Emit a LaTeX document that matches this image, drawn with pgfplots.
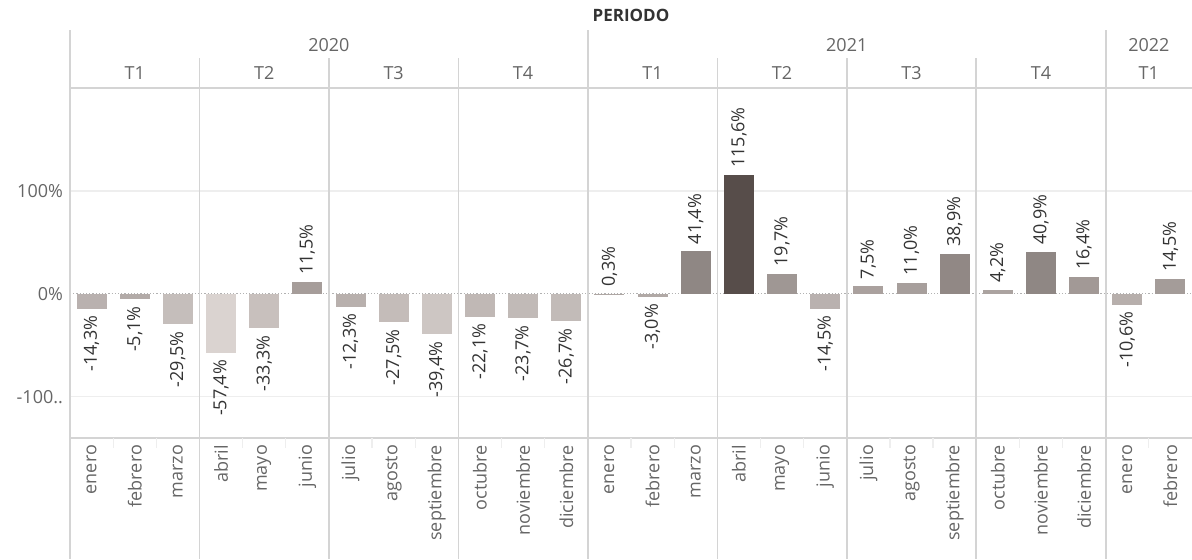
\documentclass[border=0pt]{standalone}
\usepackage{pgfplots}
\pgfplotsset{compat=1.18}
\usepackage{fontspec}
\setmainfont{Open Sans}
\definecolor{lt}{RGB}{218,211,208}
\definecolor{dk}{RGB}{87,77,74}
\definecolor{sepc}{RGB}{212,212,212}
\definecolor{gridc}{RGB}{238,238,238}
\definecolor{txt}{RGB}{102,102,102}
\definecolor{lbl}{RGB}{51,51,51}
\newcommand\pbar[3]{\addplot[draw=none, fill=dk!#3!lt, nodes near coords style={anchor=west}] coordinates {(#1,#2)};}
\newcommand\nbar[3]{\addplot[draw=none, fill=dk!#3!lt, nodes near coords style={anchor=east}] coordinates {(#1,#2)};}
\newcommand\hdr[3]{\node[font=\fontsize{9}{10}\selectfont, text=txt] at (axis cs:#1,#2) {#3};}
\begin{document}
\begin{tikzpicture}
\useasboundingbox (0,0) rectangle (596pt,279.5pt);
\begin{axis}[
  at={(35pt,60.5pt)}, anchor=south west, scale only axis,
  width=561pt, height=175pt,
  xmin=-0.5, xmax=25.5, ymin=-140, ymax=200,
  ybar, bar width=15pt, bar shift=0pt,
  clip=false, axis line style={draw=none}, major tick length=0pt,
  /pgf/number format/assume math mode=true,
  ytick={-100,0,100}, yticklabels={-100..,0\%,100\%},
  yticklabel style={font=\fontsize{9}{10}\selectfont, text=txt},
  xtick={0,...,25},
  xticklabels={enero,febrero,marzo,abril,mayo,junio,julio,agosto,septiembre,octubre,noviembre,diciembre,enero,febrero,marzo,abril,mayo,junio,julio,agosto,septiembre,octubre,noviembre,diciembre,enero,febrero},
  xticklabel style={rotate=90, anchor=east, font=\fontsize{9}{10}\selectfont, text=txt},
  nodes near coords={\pgfmathprintnumber[fixed,fixed zerofill,precision=1,use comma,assume math mode=true]{\pgfplotspointmeta}\%},
  every node near coord/.append style={rotate=90, font=\fontsize{9}{10}\selectfont, text=lbl},
]
% grid and zero line
\draw[gridc, line width=0.6pt] (axis cs:-0.5,100) -- (axis cs:25.5,100);
\draw[gridc, line width=0.6pt] (axis cs:-0.5,-100) -- (axis cs:25.5,-100);
\draw[gray!60, densely dotted, line width=0.6pt] (axis cs:-0.5,0) -- (axis cs:25.5,0);
% bars
\nbar{0}{-14.3}{25}
\nbar{1}{-5.1}{30}
\nbar{2}{-29.5}{16}
\nbar{3}{-57.4}{0}
\nbar{4}{-33.3}{14}
\pbar{5}{11.5}{40}
\nbar{6}{-12.3}{26}
\nbar{7}{-27.5}{17}
\nbar{8}{-39.4}{10}
\nbar{9}{-22.1}{20}
\nbar{10}{-23.7}{19}
\nbar{11}{-26.7}{18}
\pbar{12}{0.3}{33}
\nbar{13}{-3.0}{31}
\pbar{14}{41.4}{57}
\pbar{15}{115.6}{100}
\pbar{16}{19.7}{45}
\nbar{17}{-14.5}{25}
\pbar{18}{7.5}{37}
\pbar{19}{11.0}{39}
\pbar{20}{38.9}{56}
\pbar{21}{4.2}{36}
\pbar{22}{40.9}{57}
\pbar{23}{16.4}{43}
\nbar{24}{-10.6}{27}
\pbar{25}{14.5}{41}
% frame lines
\draw[sepc, line width=0.8pt] (axis cs:-0.5,200) -- (axis cs:25.6,200);
\draw[sepc, line width=0.8pt] (axis cs:-0.5,-140) -- (axis cs:25.6,-140);
\pgfplotsinvokeforeach{-0.5,11.5,23.5}{\draw[sepc, line width=0.8pt] (axis cs:#1,256.3) -- (axis cs:#1,-257.3);}
\pgfplotsinvokeforeach{2.5,5.5,8.5,14.5,17.5,20.5}{\draw[sepc, line width=0.8pt] (axis cs:#1,229.1) -- (axis cs:#1,-257.3);}
\pgfplotsinvokeforeach{0.5,1.5,3.5,4.5,6.5,7.5,9.5,10.5,12.5,13.5,15.5,16.5,18.5,19.5,21.5,22.5,24.5}{\draw[gridc, line width=0.6pt] (axis cs:#1,-140) -- (axis cs:#1,-149.7);}
% headers
\node[font=\fontsize{8.5}{10}\selectfont\bfseries, text=lbl] at (axis cs:12.5,270.9) {PERIODO};
\hdr{5.5}{241.7}{2020}
\hdr{17.5}{241.7}{2021}
\hdr{24.5}{241.7}{2022}
\hdr{1}{214.6}{T1}
\hdr{4}{214.6}{T2}
\hdr{7}{214.6}{T3}
\hdr{10}{214.6}{T4}
\hdr{13}{214.6}{T1}
\hdr{16}{214.6}{T2}
\hdr{19}{214.6}{T3}
\hdr{22}{214.6}{T4}
\hdr{24.5}{214.6}{T1}
\end{axis}
\end{tikzpicture}
\end{document}
